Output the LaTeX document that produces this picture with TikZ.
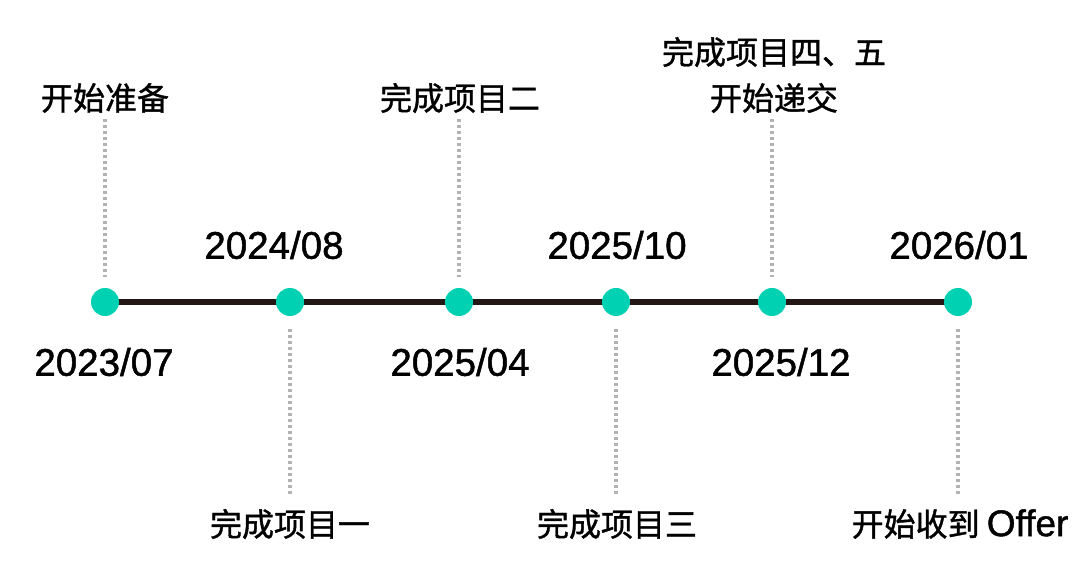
\documentclass[tikz,border=0pt]{standalone}
\usepackage{fontspec}
\setmainfont{Liberation Sans}
\newfontfamily\datefont{Liberation Sans}[FakeBold=1.2]
\newfontfamily\cjk{Noto Sans CJK SC}[FakeBold=1.2]
\usepackage{tikz}
\usetikzlibrary{positioning}
\pgfdeclarelayer{bg}
\pgfsetlayers{bg,main}
\definecolor{dotgreen}{RGB}{0,209,178}
\definecolor{axisbrown}{RGB}{35,24,21}
\definecolor{guidegray}{RGB}{178,178,178}

\begin{document}
\begin{tikzpicture}[
			x=1pt, y=-1pt,
			dot/.style={circle, fill=dotgreen, minimum size=28pt, inner sep=0pt},
			date/.style={font=\datefont\fontsize{38.5}{44}\selectfont, inner sep=0pt},
			event/.style={font=\cjk\fontsize{32}{46}\selectfont, inner sep=0pt, align=center},
			guide/.style={guidegray, line width=3.5pt, dash pattern=on 3pt off 3pt}
			]

				\useasboundingbox (0,0) rectangle (1080,569);

				% time points
				\node[dot] (d1) at (105,302) {};
				\node[dot] (d2) at (290,302) {};
				\node[dot] (d3) at (459,302) {};
				\node[dot] (d4) at (616,302) {};
				\node[dot] (d5) at (772,302) {};
				\node[dot] (d6) at (958,302) {};

				\begin{pgfonlayer}{bg}
					\draw[axisbrown, line width=6pt] (d1.center) -- (d6.center);
				\end{pgfonlayer}

				% dates
				\node[date] (t1) at (104,362) {2023/07};
				\node[date] (t2) at (274,245) {2024/08};
				\node[date] (t3) at (460,362) {2025/04};
				\node[date] (t4) at (617,245) {2025/10};
				\node[date] (t5) at (781,362) {2025/12};
				\node[date] (t6) at (959,245) {2026/01};

				% events
				\node[event] (e1) at (105,98) {开始准备};
				\node[event] (e2) at (290,524) {完成项目一};
				\node[event] (e3) at (460,98) {完成项目二};
				\node[event] (e4) at (617,524) {完成项目三};
				\node[event] (e5) at (774,75) {完成项目四、五\\开始递交};
				\node[event] (e6) at (960,524) {开始收到 {\datefont\fontsize{37}{44}\selectfont Offer}};

				\draw[guide, shorten <=6pt, shorten >=11pt] (e1.south -| d1) -- (d1.north);
				\draw[guide, shorten <=6pt, shorten >=11pt] (e3.south -| d3) -- (d3.north);
				\draw[guide, shorten <=6pt, shorten >=11pt] (e5.south -| d5) -- (d5.north);
				\draw[guide, shorten <=13pt, shorten >=14pt] (d2.south) -- (e2.north -| d2);
				\draw[guide, shorten <=13pt, shorten >=14pt] (d4.south) -- (e4.north -| d4);
				\draw[guide, shorten <=13pt, shorten >=14pt] (d6.south) -- (e6.north -| d6);

			\end{tikzpicture}
\end{document}
